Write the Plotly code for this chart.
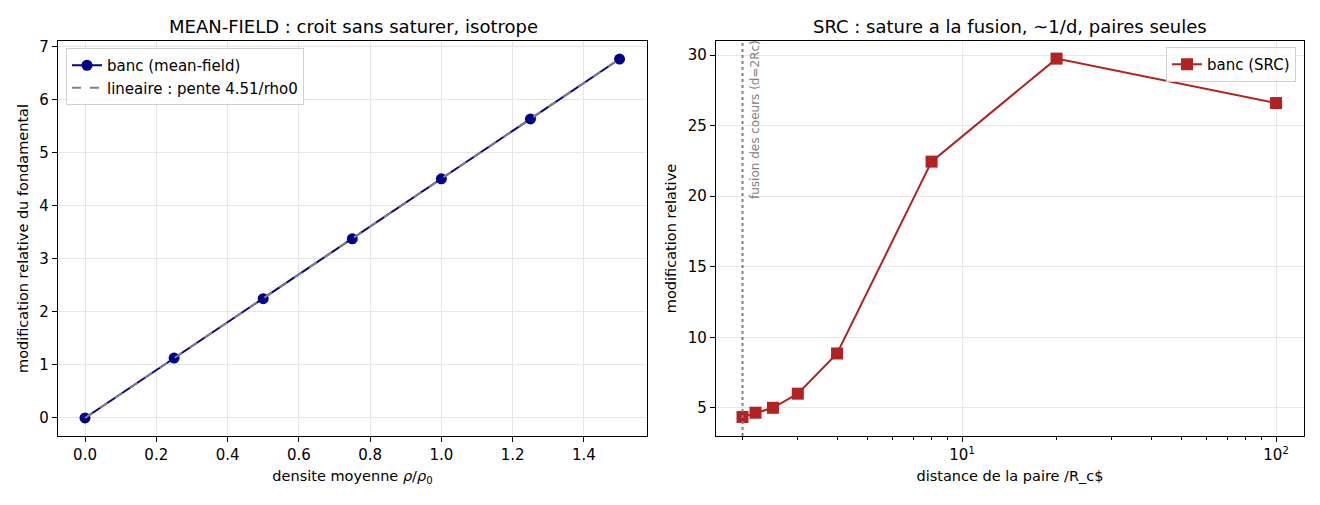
import math
import plotly.graph_objects as go

# mean-field bench
rho = [0.0, 0.25, 0.5, 0.75, 1.0, 1.25, 1.5]
mf_modif = [0.0, 1.13, 2.25, 3.38, 4.51, 5.64, 6.77]
lin_fit = [0.0, 1.13, 2.25, 3.38, 4.51, 5.64, 6.77]

# SRC bench
d_pair = [2.0, 2.2, 2.5, 3.0, 4.0, 8.0, 20.0, 100.0]
src_modif = [4.35, 4.65, 5.0, 6.0, 8.85, 22.45, 29.75, 26.6]
d_fusion = 2.0

# page body has an 8px margin, so the figure is a bit smaller and shifted
OFF = 8
W, H = 1320 - 2 * OFF, 505 - 2 * OFF
FONT = "DejaVu Sans"
GRID = "#e6e6e6"


def px_x(sx):
    return (sx - OFF) / W


def px_y(sy):
    return 1 - (sy - OFF) / H


fig = go.Figure()

fig.add_trace(go.Scatter(
    x=rho, y=mf_modif, mode="lines+markers", name="banc (mean-field)",
    line=dict(color="#00008b", width=2), marker=dict(symbol="circle", size=11, color="#00008b"),
    xaxis="x", yaxis="y", legend="legend"))
fig.add_trace(go.Scatter(
    x=rho, y=lin_fit, mode="lines", name="lineaire : pente 4.51/rho0",
    line=dict(color="#808080", width=2, dash="dash"),
    xaxis="x", yaxis="y", legend="legend"))

fig.add_trace(go.Scatter(
    x=d_pair, y=src_modif, mode="lines+markers", name="banc (SRC)",
    line=dict(color="#b22222", width=2), marker=dict(symbol="square", size=12, color="#b22222"),
    xaxis="x2", yaxis="y2", legend="legend2"))

# fusion line
fig.add_shape(type="line", xref="x2", yref="y2 domain", x0=d_fusion, x1=d_fusion, y0=0, y1=1,
              line=dict(color="#808080", width=2, dash="dot"))
fig.add_annotation(x=math.log10(d_fusion), xref="x2", y=1, yref="y2 domain", xanchor="left", yanchor="top",
                   xshift=3, yshift=3, text="fusion des coeurs (d=2Rc)", textangle=-90, showarrow=False,
                   font=dict(family=FONT, size=12, color="#808080"))

# titles
fig.add_annotation(x=px_x(353), y=px_y(26), xref="paper", yref="paper", xanchor="center", yanchor="middle",
                   showarrow=False, text="MEAN-FIELD : croit sans saturer, isotrope",
                   font=dict(family=FONT, size=18, color="black"))
fig.add_annotation(x=px_x(1010), y=px_y(26), xref="paper", yref="paper", xanchor="center", yanchor="middle",
                   showarrow=False, text="SRC : sature a la fusion, ~1/d, paires seules",
                   font=dict(family=FONT, size=18, color="black"))

axis_common = dict(showline=True, linecolor="black", linewidth=1.2, mirror=True, ticks="outside",
                   ticklen=5, tickcolor="black", gridcolor=GRID, gridwidth=1, zeroline=False,
                   automargin=False, tickfont=dict(family=FONT, size=15, color="black"),
                   title_font=dict(family=FONT, size=14.5, color="black"))

fig.update_layout(
    width=W, height=H, margin=dict(l=0, r=0, t=0, b=0),
    plot_bgcolor="white", paper_bgcolor="white", font=dict(family=FONT, color="black"),
    xaxis=dict(axis_common, domain=[px_x(58), px_x(647)], range=[-0.0758, 1.577],
               tickvals=[0, 0.2, 0.4, 0.6, 0.8, 1.0, 1.2, 1.4], tickformat=".1f",
               title=dict(text="densite moyenne <i>ρ</i>/<i>ρ</i><sub>0</sub>", standoff=7)),
    yaxis=dict(axis_common, domain=[px_y(436), px_y(41)], range=[-0.34, 7.11], anchor="x",
               tickvals=list(range(8)),
               title=dict(text="modification relative du fondamental", standoff=7)),
    xaxis2=dict(axis_common, domain=[px_x(716), px_x(1304)], type="log", range=[0.2166, 2.089], anchor="y2",
                tickvals=[10, 100], ticktext=["10<sup>1</sup>", "10<sup>2</sup>"],
                minor=dict(ticks="outside", ticklen=3, tickcolor="black", showgrid=False,
                           tickvals=[2, 3, 4, 5, 6, 7, 8, 9, 20, 30, 40, 50, 60, 70, 80, 90]),
                title=dict(text="distance de la paire /R_c$", standoff=7)),
    yaxis2=dict(axis_common, domain=[px_y(436), px_y(41)], range=[3.0, 31.0], anchor="x2",
                tickvals=[5, 10, 15, 20, 25, 30],
                title=dict(text="modification relative", standoff=7)),
    legend=dict(x=px_x(66), y=px_y(48), xanchor="left", yanchor="top", bgcolor="rgba(255,255,255,0.8)",
                bordercolor="#d0d0d0", borderwidth=1, font=dict(family=FONT, size=15, color="black"),
                tracegroupgap=0),
    legend2=dict(x=px_x(1296), y=px_y(47), xanchor="right", yanchor="top", bgcolor="rgba(255,255,255,0.8)",
                 bordercolor="#d0d0d0", borderwidth=1, font=dict(family=FONT, size=15, color="black")),
)

fig.write_html("out.html")
